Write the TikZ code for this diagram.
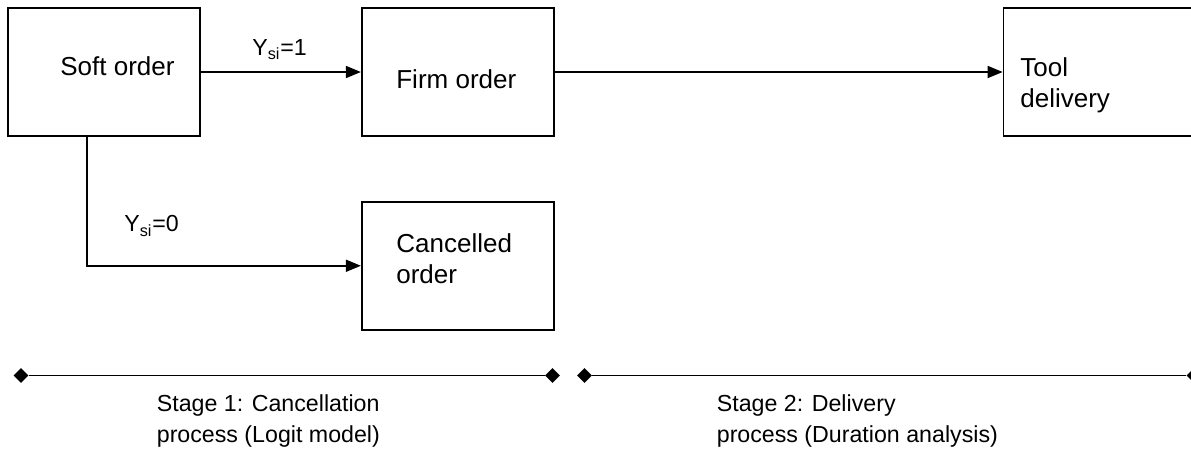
\documentclass[tikz,border=0pt]{standalone}
\usepackage{fontspec}
\setmainfont{Liberation Sans}
\usetikzlibrary{arrows.meta,shapes.geometric,positioning}

\begin{document}
\begin{tikzpicture}

\tikzset{orderbox/.style={
    draw, line width=1pt,
    minimum width=3.84cm, minimum height=2.56cm,
    inner sep=0pt
  },
  boxtext/.style={anchor=base west, inner sep=0pt, align=left,
    font=\fontsize{14.8}{17.6}\selectfont},
  smalltext/.style={anchor=base west, inner sep=0pt, align=left,
    font=\fontsize{13.2}{17.1}\selectfont},
  flow/.style={-{Triangle[length=0.3cm, width=0.24cm]}, line width=1pt},
  tick/.style={diamond, fill=black, inner sep=0pt, minimum size=0.3cm}
}

\useasboundingbox (0,0) rectangle (23.82,-9.08);

\node[orderbox] (soft) at (2.08,-1.44) {};
\node[orderbox, right=3.2cm of soft] (firm) {};
\node[orderbox, below=1.28cm of firm] (cancel) {};
\node[orderbox, right=8.96cm of firm] (tool) {};

\node[boxtext] (softtxt) at (1.2,-1.5) {Soft order};
\node[boxtext] (firmtxt) at (7.92,-1.77) {Firm order};
\node[boxtext] (canceltxt) at (7.92,-5.66) {Cancelled\\order};
\node[boxtext] (tooltxt) at (20.4,-2.15) {Tool\\delivery};

\draw[flow] (soft) -- (firm);
\draw[flow] (firm) -- (tool);
\draw[flow] ([xshift=1.6cm]soft.south west) |- (cancel.west);

\node[smalltext] (yone) at (5.04,-1.1) {Y\textsubscript{si}=1};
\node[smalltext] (yzero) at (2.48,-4.63) {Y\textsubscript{si}=0};

\node[tick] (s1a) at (0.42,-7.51) {};
\node[tick] (s1b) at (11.05,-7.51) {};
\node[tick] (s2a) at (11.69,-7.51) {};
\node[tick] (s2b) at (23.88,-7.51) {};
\draw[line width=1pt] (s1a) -- (s1b);
\draw[line width=1pt] (s2a) -- (s2b);

\node[smalltext] (stage1) at (3.13,-8.84) {Stage 1: Cancellation\\process (Logit model)};
\node[smalltext] (stage2) at (14.33,-8.84) {Stage 2: Delivery\\process (Duration analysis)};

\end{tikzpicture}
\end{document}
